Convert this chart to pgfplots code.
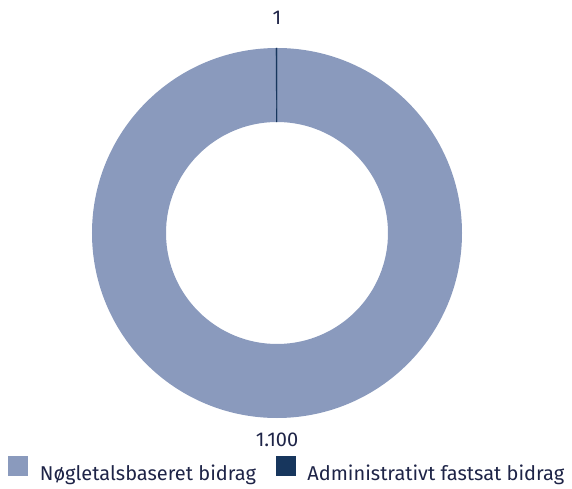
\documentclass[border=0pt]{standalone}
\usepackage{pgfplots}
\usepackage{pgfplotstable}
\pgfplotsset{compat=1.18}
\usepackage{fontspec}
\setmainfont{Fira Sans}
\definecolor{lightc}{HTML}{8A9ABD}
\definecolor{darkc}{HTML}{17365D}
\definecolor{txtc}{HTML}{1E2447}
\pgfplotstableread{
label value
Noegle 1100
Admin 1
}\piedata
\begin{document}
\begin{tikzpicture}
\pgfplotstablegetelem{0}{value}\of\piedata\edef\va{\pgfplotsretval}
\pgfplotstablegetelem{1}{value}\of\piedata\edef\vb{\pgfplotsretval}
\pgfmathsetmacro{\tot}{\va+\vb}
\pgfmathsetmacro{\ab}{90+360*(\vb/\tot)}
\pgfmathsetmacro{\ae}{\ab-360}
\begin{axis}[
  scale only axis, width=370pt, height=370pt,
  xmin=-1, xmax=1, ymin=-1, ymax=1,
  hide axis, clip=false,
  legend columns=2,
  legend style={draw=none, fill=none, at={(0.528,-0.14)}, anchor=center,
    font=\fontsize{20}{23}\selectfont\color{txtc},
    /tikz/every odd column/.append style={column sep=10pt},
    /tikz/every even column/.append style={column sep=18pt},
    inner sep=0pt},
  legend image code/.code={\fill[#1] (0pt,-2pt) rectangle (19pt,17pt);},
]
\addlegendimage{lightc}
\addlegendentry{Nøgletalsbaseret bidrag}
\addlegendimage{darkc}
\addlegendentry{Administrativt fastsat bidrag}
\fill[lightc] (axis cs:0,0) ++(90:185pt) arc[start angle=90, end angle=\ae, radius=185pt]
  -- ++(\ae+180:74pt) arc[start angle=\ae, end angle=90, radius=111pt] -- cycle;
\filldraw[darkc, line width=0.4pt] (axis cs:0,0) ++(\ab:185pt) arc[start angle=\ab, end angle=90, radius=185pt]
  -- ++(270:74pt) arc[start angle=90, end angle=\ab, radius=111pt] -- cycle;
\node[text=txtc, font=\fontsize{20}{23}\selectfont] at (axis cs:0,1.165) {1};
\node[text=txtc, font=\fontsize{20}{23}\selectfont] at (axis cs:0,-1.12) {1.100};
\end{axis}
\pgfresetboundingbox
\useasboundingbox (-92pt,-71pt) rectangle (480pt,418pt);
\end{tikzpicture}
\end{document}
